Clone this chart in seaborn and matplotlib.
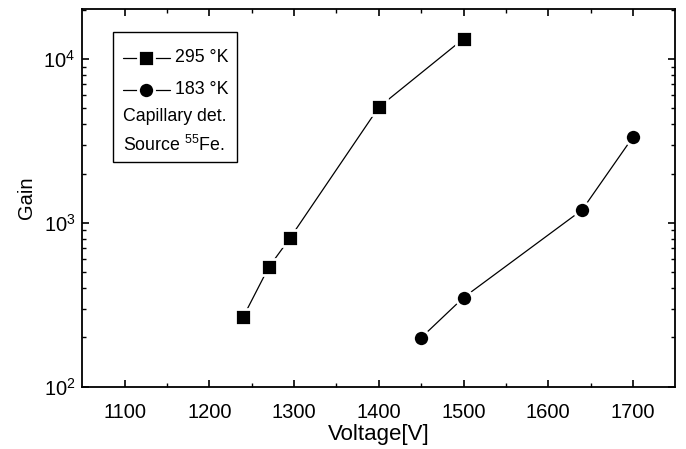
import numpy as np
import pandas as pd
import matplotlib
matplotlib.use("Agg")
import matplotlib.pyplot as plt
from matplotlib.lines import Line2D
from matplotlib.patches import Rectangle
import seaborn as sns

# ---- data ----
volt_295 = [1240, 1270, 1295, 1400, 1500]
gain_295 = [267, 535, 805, 5080, 13300]
volt_183 = [1450, 1500, 1640, 1700]
gain_183 = [199, 350, 1200, 3340]
legend_labels = ["295 °K", "183 °K", "Capillary det.", "Source $^{55}$Fe."]
x_ticks = [1100, 1200, 1300, 1400, 1500, 1600, 1700]

sns.set_style("ticks")
plt.rcParams["font.family"] = ["Liberation Sans", "DejaVu Sans"]
plt.rcParams["mathtext.fontset"] = "custom"
plt.rcParams["mathtext.rm"] = "Liberation Sans"
plt.rcParams["mathtext.it"] = "Liberation Sans:italic"
plt.rcParams["mathtext.bf"] = "Liberation Sans:bold"
plt.rcParams["axes.linewidth"] = 1.3
plt.rcParams["axes.labelcolor"] = "black"
plt.rcParams["text.color"] = "black"

W, H = 686, 449
fig = plt.figure(figsize=(W / 100, H / 100), dpi=100)
ax = fig.add_axes([82.3 / W, 1 - 386.7 / H, (675.3 - 82.3) / W, (386.7 - 9) / H])
ax.set_facecolor("white")
fig.patch.set_facecolor("white")

df295 = pd.DataFrame({"Voltage": volt_295, "Gain": gain_295})
df183 = pd.DataFrame({"Voltage": volt_183, "Gain": gain_183})

mk = dict(color="black", linewidth=0.9, markersize=11.6, markeredgecolor="white",
          markeredgewidth=2.0, markerfacecolor="black")
sns.lineplot(data=df295, x="Voltage", y="Gain", marker="s", ax=ax, **mk)
sns.lineplot(data=df183, x="Voltage", y="Gain", marker="o", ax=ax, **mk)

ax.set_yscale("log")
ax.set_xlim(1050, 1750)
ax.set_ylim(100, 2.02e4)
ax.set_xticks(x_ticks)
ax.set_xticks(np.arange(1150, 1750, 100), minor=True)
ax.tick_params(which="both", direction="in", top=True, right=True, color="black",
               labelsize=14.5, labelcolor="black")
ax.tick_params(which="major", length=5, width=1.2)
ax.tick_params(which="minor", length=3, width=1.0)
ax.tick_params(axis="x", pad=12)
ax.tick_params(axis="y", pad=5)
for s in ax.spines.values():
    s.set_color("black")
ax.set_xlabel("Voltage[V]", fontsize=16, labelpad=1)
ax.set_ylabel("Gain", fontsize=14.5, labelpad=5)

# ---- legend box (manual, figure pixel coords) ----
def fxy(px, py):
    return px / W, 1 - py / H

x0, y0 = fxy(112.7, 161.7)
x1, y1 = fxy(236.7, 32.3)
fig.add_artist(Rectangle((x0, y0), x1 - x0, y1 - y0, transform=fig.transFigure,
                         facecolor="white", edgecolor="black", linewidth=1.0, zorder=5))
rows = [58, 90]
for py, m in zip(rows, ["s", "o"]):
    a, b = fxy(122.7, py)
    c, _ = fxy(170, py)
    mid, _ = fxy(146, py)
    fig.add_artist(Line2D([a, c], [b, b], transform=fig.transFigure, color="black",
                          linewidth=0.9, zorder=6))
    fig.add_artist(Line2D([mid], [b], transform=fig.transFigure, marker=m, color="black",
                          markersize=11.6, markeredgecolor="white", markeredgewidth=2.0,
                          linestyle="none", zorder=7))
for lab, py in zip(legend_labels[:2], rows):
    tx, ty = fxy(175, py)
    fig.text(tx, ty, lab, fontsize=12.8, va="center", ha="left", zorder=8)
for lab, py in zip(legend_labels[2:], [116, 145]):
    tx, ty = fxy(123.3, py)
    fig.text(tx, ty, lab, fontsize=12.8, va="center", ha="left", zorder=8)

fig.savefig("out.png", dpi=100, facecolor="white")
